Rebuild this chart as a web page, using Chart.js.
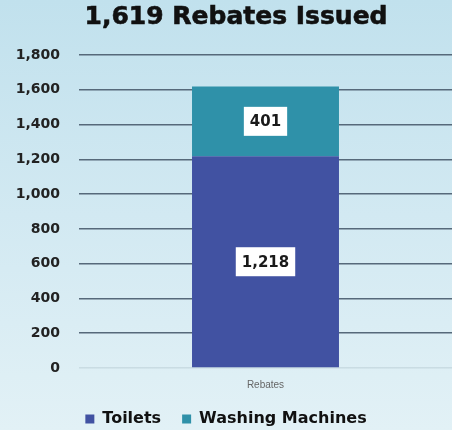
<!DOCTYPE html>
<html>
<head>
<meta charset="utf-8">
<script src="https://cdn.jsdelivr.net/npm/chart.js@4"></script>
<style>
  html, body { margin: 0; padding: 0; }
  body {
    width: 452px; height: 430px; overflow: hidden;
    background: linear-gradient(to bottom, #c1e1ed 0%, #d2e9f2 50%, #e2f1f6 100%);
  }
  #wrap { position: relative; width: 452px; height: 430px; }
</style>
</head>
<body>
<div id="wrap"><canvas id="rebateChart" width="452" height="430"></canvas></div>
<script>
const categories = ["Rebates"];
const seriesNames = ["Toilets", "Washing Machines"];
const toilets = [1218];
const washingMachines = [401];
const yTicks = [0, 200, 400, 600, 800, 1000, 1200, 1400, 1600, 1800];
const titleText = "1,619 Rebates Issued";

const heavy = "'DejaVu Sans', 'Liberation Sans', Arial, sans-serif";

// title drawn by hand so it can sit a little right of centre like the original
const heading = {
    id: "heading",
    afterDraw(chart) {
        const c = chart.ctx;
        c.save();
        c.font = "bold 25px " + heavy;
        c.textAlign = "center";
        c.textBaseline = "middle";
        c.fillStyle = "#111";
        c.strokeStyle = "#111";
        c.lineWidth = 0.6;
        c.fillText(titleText, 236, 17);
        c.strokeText(titleText, 236, 17);
        c.restore();
    }
};

// draws the white value boxes in the middle of each bar segment
const valueBoxes = {
    id: "valueBoxes",
    afterDatasetsDraw(chart) {
        const c = chart.ctx;
        c.save();
        c.font = "bold 15px " + heavy;
        c.textAlign = "center";
        c.textBaseline = "middle";
        chart.data.datasets.forEach((ds, i) => {
            chart.getDatasetMeta(i).data.forEach((bar, j) => {
                const txt = ds.data[j].toLocaleString("en-US");
                const cy = (bar.y + bar.base) / 2;
                const w = c.measureText(txt).width + 12;
                const h = 29;
                c.fillStyle = "#ffffff";
                c.fillRect(bar.x - w / 2, cy - h / 2, w, h);
                c.fillStyle = "#1a1a1a";
                c.fillText(txt, bar.x, cy + 1);
            });
        });
        c.restore();
    }
};

const ctx = document.getElementById("rebateChart").getContext("2d");
new Chart(ctx, {
    type: "bar",
    data: {
        labels: categories,
        datasets: [
            { label: seriesNames[0], data: toilets, backgroundColor: "#4152a2" },
            { label: seriesNames[1], data: washingMachines, backgroundColor: "#2f91a9" }
        ]
    },
    options: {
        responsive: false,
        animation: false,
        layout: { padding: { top: 55, right: 0, left: 0, bottom: -7 } },
        datasets: { bar: { categoryPercentage: 0.394, barPercentage: 1 } },
        scales: {
            x: {
                stacked: true,
                grid: { display: false },
                border: { display: false },
                afterFit(axis) { axis.height = 22; },
                ticks: { color: "#666", font: { size: 10, family: "'Liberation Sans Narrow', 'Liberation Sans', Arial" }, padding: 3 }
            },
            y: {
                stacked: true,
                min: 0,
                max: 1800,
                afterBuildTicks(axis) { axis.ticks = yTicks.map(v => ({ value: v })); },
                afterFit(axis) { axis.width = 79; },
                border: { display: false },
                grid: {
                    drawTicks: false,
                    lineWidth: 1.5,
                    color: c => c.tick && c.tick.value === 0 ? "rgba(90,111,127,0.15)" : "#56697a"
                },
                ticks: {
                    padding: 19,
                    color: "#222",
                    font: { size: 14, weight: "bold", family: heavy },
                    callback: v => v.toLocaleString("en-US")
                }
            }
        },
        plugins: {
            title: { display: false },
            legend: {
                position: "bottom",
                labels: {
                    boxWidth: 9,
                    boxHeight: 9,
                    color: "#111",
                    padding: 21,
                    font: { size: 16, weight: "bold", family: heavy }
                }
            },
            tooltip: { enabled: false }
        }
    },
    plugins: [valueBoxes, heading]
});
</script>
</body>
</html>
